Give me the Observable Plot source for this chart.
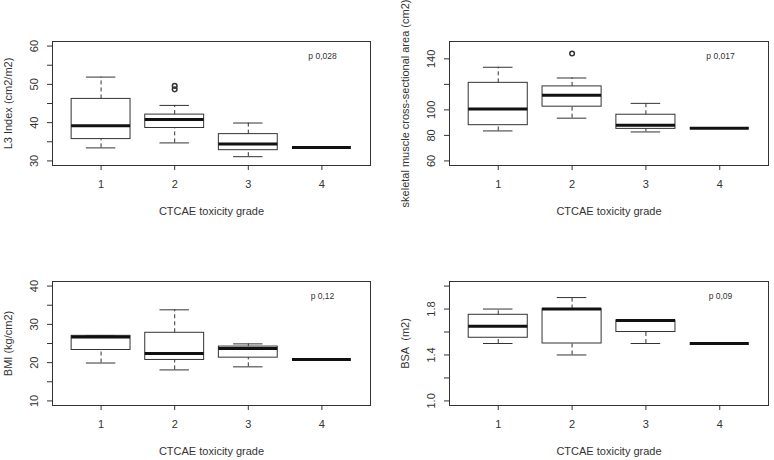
<!DOCTYPE html>
<html>
<head>
<meta charset="utf-8">
<script src="https://cdn.jsdelivr.net/npm/d3@7"></script>
<script src="https://cdn.jsdelivr.net/npm/@observablehq/plot@0.6"></script>
<style>
  html, body { margin: 0; padding: 0; background: #fff; }
  #fig { position: relative; width: 774px; height: 460px; background: #fff; }
  .panel { position: absolute; width: 387px; height: 230px; }
</style>
</head>
<body>
<div id="fig">
  <div class="panel" id="p1" style="left:0px;top:0px"></div>
  <div class="panel" id="p2" style="left:387px;top:0px"></div>
  <div class="panel" id="p3" style="left:0px;top:240px"></div>
  <div class="panel" id="p4" style="left:387px;top:240px"></div>
</div>
<script>
// ---- data ----
const grades = [1, 2, 3, 4];
const xTitle = "CTCAE toxicity grade";

// L3 Index (cm2/m2)
const l3Low = [33.4, 34.7, 31.1, 33.5];
const l3Q1  = [35.7, 38.6, 32.8, 33.5];
const l3Med = [39.2, 40.8, 34.4, 33.5];
const l3Q3  = [46.2, 42.1, 37.0, 33.5];
const l3High = [51.9, 44.5, 39.9, 33.5];
const l3OutGrade = [2, 2];
const l3OutValue = [48.7, 49.6];
const l3Ticks = [30, 35, 40, 45, 50, 55, 60];
const l3TickLabels = ["30", "40", "50", "60"];
const l3TickLabelValues = [30, 40, 50, 60];

// Skeletal muscle cross-sectional area (cm2)
const smaLow = [83.5, 93.5, 82.7, 85.6];
const smaQ1  = [88.0, 102.5, 85.1, 85.6];
const smaMed = [100.6, 111.5, 88.0, 85.6];
const smaQ3  = [121.2, 118.4, 96.2, 85.6];
const smaHigh = [133.4, 125.0, 105.1, 85.6];
const smaOutGrade = [2];
const smaOutValue = [144.2];
const smaTicks = [60, 80, 100, 120, 140];
const smaTickLabels = ["60", "80", "100", "140"];
const smaTickLabelValues = [60, 80, 100, 140];

// BMI (kg/cm2)
const bmiLow = [19.9, 18.1, 18.9, 20.8];
const bmiQ1  = [23.3, 20.7, 21.3, 20.8];
const bmiMed = [26.7, 22.4, 23.7, 20.8];
const bmiQ3  = [27.0, 27.8, 24.2, 20.8];
const bmiHigh = [27.1, 33.8, 24.9, 20.8];
const bmiTicks = [10, 15, 20, 25, 30, 35, 40];
const bmiTickLabels = ["10", "20", "30", "40"];
const bmiTickLabelValues = [10, 20, 30, 40];

// BSA (m2)
const bsaLow = [1.50, 1.40, 1.50, 1.50];
const bsaQ1  = [1.55, 1.50, 1.60, 1.50];
const bsaMed = [1.65, 1.80, 1.70, 1.50];
const bsaQ3  = [1.75, 1.80, 1.70, 1.50];
const bsaHigh = [1.80, 1.90, 1.70, 1.50];
const bsaTicks = [1.0, 1.2, 1.4, 1.6, 1.8, 2.0];
const bsaTickLabels = ["1.0", "1.4", "1.8"];
const bsaTickLabelValues = [1.0, 1.4, 1.8];

const pValues = ["p 0,028", "p 0,017", "p 0,12", "p 0,09"];
const yTitles = ["L3 Index (cm2/m2)", "skeletal muscle cross-sectional area (cm2)", "BMI (kg/cm2)", "BSA\u00a0 (m2)"];

// ---- helpers ----
const ink = "#333";
function boxRows(lo, q1, med, q3, hi) {
  return grades.map((g, i) => ({g, lo: lo[i], q1: q1[i], med: med[i], q3: q3[i], hi: hi[i]}));
}
function outRows(gs, vs) {
  return gs.map((g, i) => ({g, v: vs[i]}));
}

function panel({rows, outliers, domain, ticks, labelValues, labels, ytitle, p, marginLeft, marginRight}) {
  const labelRows = labelValues.map((v, i) => ({v, t: labels[i]}));
  return Plot.plot({
    width: 387,
    height: 230,
    marginLeft,
    marginRight,
    marginTop: 41,
    marginBottom: 65,
    x: {domain: [0.34, 4.66]},
    y: {domain},
    style: {fontFamily: "'Liberation Sans', Arial, sans-serif", fontSize: "11px", color: ink, background: "#fff", overflow: "visible"},
    marks: [
      Plot.axisY({ticks, tickSize: 5, tickFormat: () => "", label: null, stroke: ink}),
      Plot.axisX({ticks: grades, tickSize: 5, tickPadding: 10, tickFormat: d => String(d), label: null, stroke: ink, fontSize: 11}),
      Plot.ruleX(rows, {x: "g", y1: "q3", y2: "hi", stroke: ink, strokeDasharray: "4,3"}),
      Plot.ruleX(rows, {x: "g", y1: "lo", y2: "q1", stroke: ink, strokeDasharray: "4,3"}),
      Plot.ruleY(rows, {y: "hi", x1: d => d.g - 0.2, x2: d => d.g + 0.2, stroke: ink}),
      Plot.ruleY(rows, {y: "lo", x1: d => d.g - 0.2, x2: d => d.g + 0.2, stroke: ink}),
      Plot.rect(rows, {x1: d => d.g - 0.4, x2: d => d.g + 0.4, y1: "q1", y2: "q3", fill: "none", stroke: ink}),
      Plot.ruleY(rows, {y: "med", x1: d => d.g - 0.4, x2: d => d.g + 0.4, stroke: "#111", strokeWidth: 3}),
      Plot.dot(outliers, {x: "g", y: "v", r: 2.3, stroke: ink, fill: "none"}),
      Plot.frame({stroke: ink}),
      Plot.text(labelRows, {y: "v", text: "t", frameAnchor: "left", dx: -18, rotate: -90, textAnchor: "middle", lineAnchor: "middle", fontSize: 11, fill: ink}),
      Plot.text([ytitle], {text: d => d, frameAnchor: "left", dx: -44, rotate: -90, textAnchor: "middle", lineAnchor: "middle", fontSize: 11, fill: ink}),
      Plot.text([xTitle], {text: d => d, frameAnchor: "bottom", dy: 45.5, textAnchor: "middle", lineAnchor: "middle", fontSize: 11, fill: ink}),
      Plot.text([p], {text: d => d, frameAnchor: "top-right", dx: -48, dy: 14.5, textAnchor: "middle", lineAnchor: "middle", fontSize: 8.5, fill: ink})
    ]
  });
}

document.getElementById("p1").append(panel({
  rows: boxRows(l3Low, l3Q1, l3Med, l3Q3, l3High),
  outliers: outRows(l3OutGrade, l3OutValue),
  domain: [28.8, 61.2], ticks: l3Ticks, labelValues: l3TickLabelValues, labels: l3TickLabels,
  ytitle: yTitles[0], p: pValues[0], marginLeft: 52, marginRight: 17
}));
document.getElementById("p2").append(panel({
  rows: boxRows(smaLow, smaQ1, smaMed, smaQ3, smaHigh),
  outliers: outRows(smaOutGrade, smaOutValue),
  domain: [56.4, 153.6], ticks: smaTicks, labelValues: smaTickLabelValues, labels: smaTickLabels,
  ytitle: yTitles[1], p: pValues[1], marginLeft: 62, marginRight: 6
}));
document.getElementById("p3").append(panel({
  rows: boxRows(bmiLow, bmiQ1, bmiMed, bmiQ3, bmiHigh),
  outliers: [],
  domain: [8.8, 41.2], ticks: bmiTicks, labelValues: bmiTickLabelValues, labels: bmiTickLabels,
  ytitle: yTitles[2], p: pValues[2], marginLeft: 52, marginRight: 17
}));
document.getElementById("p4").append(panel({
  rows: boxRows(bsaLow, bsaQ1, bsaMed, bsaQ3, bsaHigh),
  outliers: [],
  domain: [0.96, 2.04], ticks: bsaTicks, labelValues: bsaTickLabelValues, labels: bsaTickLabels,
  ytitle: yTitles[3], p: pValues[3], marginLeft: 62, marginRight: 6
}));
</script>
</body>
</html>
